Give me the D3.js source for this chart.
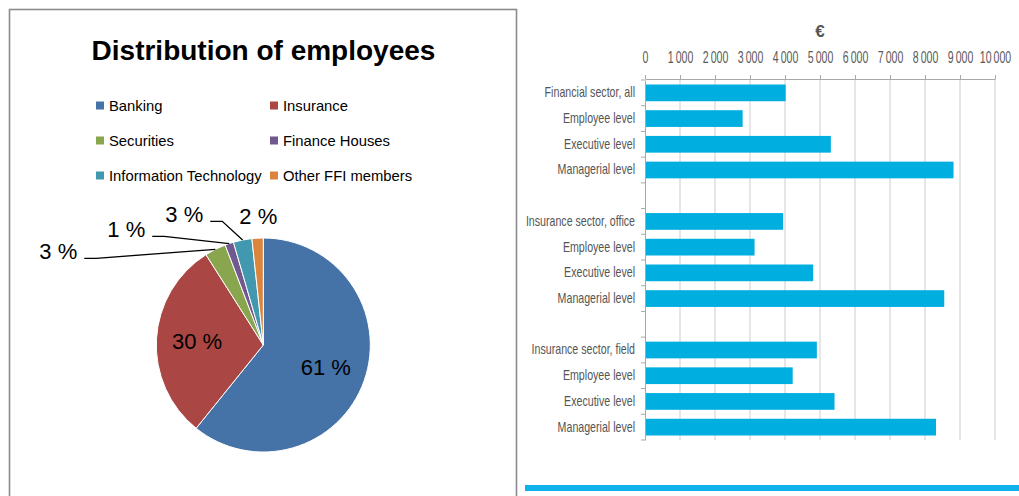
<!DOCTYPE html>
<html>
<head>
<meta charset="utf-8">
<script src="https://cdn.jsdelivr.net/npm/d3@7"></script>
<style>
  html, body { margin: 0; padding: 0; background: #fff; }
  svg { display: block; }
</style>
</head>
<body>
<svg id="chart" width="1019" height="496"></svg>
<script>
// ---------- Pie data ----------
const pieCategories = ["Banking", "Insurance", "Securities", "Finance Houses", "Information Technology", "Other FFI members"];
const pieValues = [60.8, 30.2, 3.2, 1.3, 2.8, 1.7];
const pieLabels = ["61 %", "30 %", "3 %", "1 %", "3 %", "2 %"];
const pieColors = ["#4572A7", "#AA4643", "#89A54E", "#71588F", "#4198AF", "#DB843D"];
// label placement: inside (centroid) or outside with explicit offset from pie centre
const pieLabelMode = ["in", "in", "out", "out", "out", "out"];
const pieLabelOffsets = [null, null, [-205, -86], [-137, -108], [-79, -123], [-5, -121]];
const pieLeader = [false, false, true, true, true, false];

// ---------- Bar data ----------
const barCategories = ["Financial sector, all", "Employee level", "Executive level", "Managerial level", "",
  "Insurance sector, office", "Employee level", "Executive level", "Managerial level", "",
  "Insurance sector, field", "Employee level", "Executive level", "Managerial level"];
const barValues = [4020, 2790, 5310, 8815, null, 3945, 3130, 4805, 8550, null, 4910, 4220, 5415, 8315];
const xTickValues = [0, 1000, 2000, 3000, 4000, 5000, 6000, 7000, 8000, 9000, 10000];
const xTickLabels = ["0", "1\u2009000", "2\u2009000", "3\u2009000", "4\u2009000", "5\u2009000", "6\u2009000", "7\u2009000", "8\u2009000", "9\u2009000", "10\u2009000"];
const unitLabel = "€";

const svg = d3.select("#chart");

// ================= LEFT PANEL: PIE =================
const left = svg.append("g");
left.append("rect")
  .attr("x", 9.5).attr("y", 9.5).attr("width", 507).attr("height", 520)
  .attr("fill", "none").attr("stroke", "#8c8c8c").attr("stroke-width", 1.6);

left.append("text")
  .attr("x", 263.5).attr("y", 60)
  .attr("text-anchor", "middle")
  .attr("font-family", "'Liberation Sans', Arial, sans-serif")
  .attr("font-weight", "bold").attr("font-size", 28)
  .attr("fill", "#000")
  .text("Distribution of employees");

// legend
const legCols = [96, 270];
const legRows = [111, 146, 181];
const legend = left.append("g");
pieCategories.forEach((c, i) => {
  const lx = legCols[i % 2], ly = legRows[Math.floor(i / 2)];
  legend.append("rect").attr("x", lx).attr("y", ly - 9.5).attr("width", 8).attr("height", 8).attr("fill", pieColors[i]);
  legend.append("text").attr("x", lx + 13).attr("y", ly)
    .attr("font-family", "'Liberation Sans', Arial, sans-serif")
    .attr("font-size", 14.8).attr("fill", "#000").text(c);
});

const cx = 263.3, cy = 345, R = 107;
const pie = d3.pie().sort(null).value(d => d)(pieValues);
const arc = d3.arc().innerRadius(0).outerRadius(R);
const labelArc = d3.arc().innerRadius(R * 0.62).outerRadius(R * 0.62);
const edgeArc = d3.arc().innerRadius(R).outerRadius(R);

const pg = left.append("g").attr("transform", `translate(${cx},${cy})`);
pg.selectAll("path.slice").data(pie).join("path")
  .attr("class", "slice")
  .attr("d", arc)
  .attr("fill", (d, i) => pieColors[i])
  .attr("stroke", "#fff").attr("stroke-width", 1);

pie.forEach((d, i) => {
  let tx, ty;
  if (pieLabelMode[i] === "in") {
    const c = labelArc.centroid(d);
    tx = c[0]; ty = c[1] + 8;
  } else {
    tx = pieLabelOffsets[i][0]; ty = pieLabelOffsets[i][1];
  }
  const t = pg.append("text")
    .attr("x", tx).attr("y", ty)
    .attr("text-anchor", "middle")
    .attr("font-family", "'Liberation Sans', Arial, sans-serif")
    .attr("font-size", 22).attr("fill", "#000")
    .text(pieLabels[i]);
  if (pieLeader[i]) {
    const w = t.node().getComputedTextLength();
    const sx = tx + w / 2 + 7, sy = ty - 0.7;
    const e = edgeArc.centroid(d);
    pg.append("path")
      .attr("d", `M${sx},${sy}H${sx + 12}L${e[0]},${e[1]}`)
      .attr("fill", "none").attr("stroke", "#000").attr("stroke-width", 1.3);
  }
});

// ================= RIGHT PANEL: BARS =================
const right = svg.append("g");
const x = d3.scaleLinear().domain([0, 10000]).range([645, 995]);
const y = d3.scaleBand().domain(d3.range(barCategories.length)).range([80, 440])
  .paddingInner(0.35).paddingOuter(0.175);

// gridlines
right.append("g").selectAll("line").data(xTickValues.slice(1)).join("line")
  .attr("x1", d => x(d)).attr("x2", d => x(d))
  .attr("y1", 79).attr("y2", 440)
  .attr("stroke", "#d6d6d6").attr("stroke-width", 1.2);

// bars
right.append("g").selectAll("rect").data(barValues.map((v, i) => ({ v, i })).filter(d => d.v != null)).join("rect")
  .attr("x", x(0)).attr("y", d => y(d.i))
  .attr("width", d => x(d.v) - x(0)).attr("height", y.bandwidth())
  .attr("fill", "#00AEE0");

// top axis
const xAxis = right.append("g").attr("transform", "translate(0,79)")
  .call(d3.axisTop(x).tickValues(xTickValues).tickFormat((d, i) => xTickLabels[i])
    .tickSizeInner(4).tickSizeOuter(0).tickPadding(12));
xAxis.select(".domain").attr("stroke", "#a8a8a8");
xAxis.selectAll(".tick line").attr("stroke", "#a8a8a8");
xAxis.selectAll(".tick text")
  .attr("font-family", "'Liberation Sans', Arial, sans-serif")
  .attr("font-size", 16).attr("fill", "#5a5a5a")
  .attr("transform", "scale(0.66,1)");

// left axis
const sx = 0.76;
const yAxis = right.append("g").attr("transform", `translate(${x(0)},0)`)
  .call(d3.axisLeft(y).tickFormat(i => barCategories[i]).tickSize(0).tickPadding(10));
yAxis.select(".domain").attr("stroke", "#a8a8a8");
yAxis.selectAll(".tick text")
  .attr("font-family", "'Liberation Sans', Arial, sans-serif")
  .attr("font-size", 14).attr("fill", "#555")
  .attr("x", -10 / sx)
  .attr("transform", `scale(${sx},1)`);
// category separator ticks
const bounds = d3.range(barCategories.length + 1).map(k => y.range()[0] + y.step() * k);
right.append("g").selectAll("line").data(bounds).join("line")
  .attr("x1", x(0) - 4).attr("x2", x(0))
  .attr("y1", d => d).attr("y2", d => d)
  .attr("stroke", "#a8a8a8").attr("stroke-width", 1);

// unit label
right.append("text")
  .attr("x", x(5000)).attr("y", 37)
  .attr("text-anchor", "middle")
  .attr("font-family", "'Liberation Sans', Arial, sans-serif")
  .attr("font-size", 17).attr("font-weight", "bold").attr("fill", "#555")
  .text(unitLabel);

// bottom stripe
right.append("rect")
  .attr("x", 525).attr("y", 485).attr("width", 494).attr("height", 6)
  .attr("fill", "#0DB3EA");
</script>
</body>
</html>
